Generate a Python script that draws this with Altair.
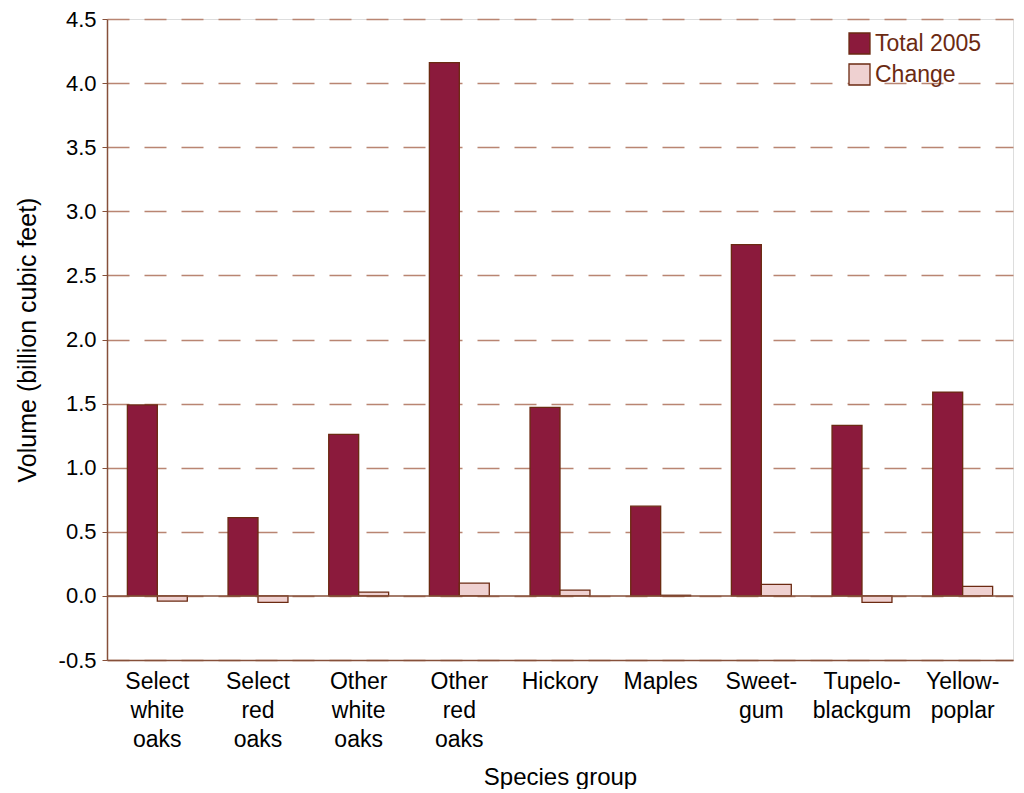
import altair as alt
import pandas as pd

category_lines = [
    ["Select", "white", "oaks"],
    ["Select", "red", "oaks"],
    ["Other", "white", "oaks"],
    ["Other", "red", "oaks"],
    ["Hickory"],
    ["Maples"],
    ["Sweet-", "gum"],
    ["Tupelo-", "blackgum"],
    ["Yellow-", "poplar"],
]
categories = ["|".join(l) for l in category_lines]
total_2005 = [1.49, 0.61, 1.26, 4.16, 1.47, 0.70, 2.74, 1.33, 1.59]
change = [-0.04, -0.05, 0.03, 0.10, 0.045, 0.005, 0.09, -0.05, 0.075]
series = ["Total 2005", "Change"]
y_ticks = [-0.5, 0.0, 0.5, 1.0, 1.5, 2.0, 2.5, 3.0, 3.5, 4.0, 4.5]

rows = []
for c, t, ch in zip(categories, total_2005, change):
    rows.append({"Species": c, "Series": "Total 2005", "Value": t})
    rows.append({"Species": c, "Series": "Change", "Value": ch})
df = pd.DataFrame(rows)

BROWN = "#6b2a12"
LINE = "#86503a"
FONT = "Liberation Sans"

bars = alt.Chart(df).mark_bar(stroke=BROWN, strokeWidth=1.3).encode(
    x=alt.X("Species:N", sort=categories, title="Species group",
            scale=alt.Scale(paddingInner=0, paddingOuter=0),
            axis=alt.Axis(labelExpr="split(datum.label, '|')", labelAngle=0,
                          labelLineHeight=29, labelFontSize=23, labelPadding=10,
                          labelBaseline="top",
                          ticks=False, domain=True, domainColor=LINE,
                          domainWidth=1.5, titleFontSize=24, titlePadding=14,
                          titleFontWeight="normal")),
    xOffset=alt.XOffset("Series:N", sort=series,
                        scale=alt.Scale(paddingInner=0, paddingOuter=0.68)),
    y=alt.Y("Value:Q", title="Volume (billion cubic feet)",
            scale=alt.Scale(domain=[-0.5, 4.5], nice=False, zero=False),
            axis=alt.Axis(values=y_ticks,
                          labelExpr="datum.value < 0 ? '-' + format(-datum.value, '.1f') : format(datum.value, '.1f')",
                          labelFontSize=22,
                          tickSize=5, tickColor=LINE, domainColor=LINE,
                          domainWidth=1.5, labelPadding=6,
                          grid=True, gridDash=[22, 15], gridColor="#b98572",
                          gridWidth=1.3, titleFontSize=25, titlePadding=18,
                          titleFontWeight="normal")),
    color=alt.Color("Series:N", sort=series,
                    scale=alt.Scale(domain=series, range=["#8b1a3c", "#efd1d1"]),
                    legend=alt.Legend(title=None, orient="none", legendX=741,
                                      legendY=13, symbolType="square",
                                      symbolSize=441, symbolStrokeColor=BROWN,
                                      symbolStrokeWidth=1.3, labelFontSize=23,
                                      labelColor=BROWN, rowPadding=4,
                                      labelOffset=4, padding=0,
                                      symbolOpacity=1)),
)

zero = alt.Chart(pd.DataFrame({"y": [0.0]})).mark_rule(
    color=LINE, strokeWidth=1.5).encode(y="y:Q")

chart = alt.layer(bars, zero).properties(
    width=906, height=641,
    padding={"left": 7, "top": 0, "right": 0, "bottom": 0},
).configure_view(stroke=None).configure_axis(
    labelColor=BROWN, titleColor=BROWN, labelFont=FONT, titleFont=FONT,
).configure_legend(labelFont=FONT).configure(font=FONT)

chart.save("out.html", embed_options={"renderer": "svg", "actions": False})
